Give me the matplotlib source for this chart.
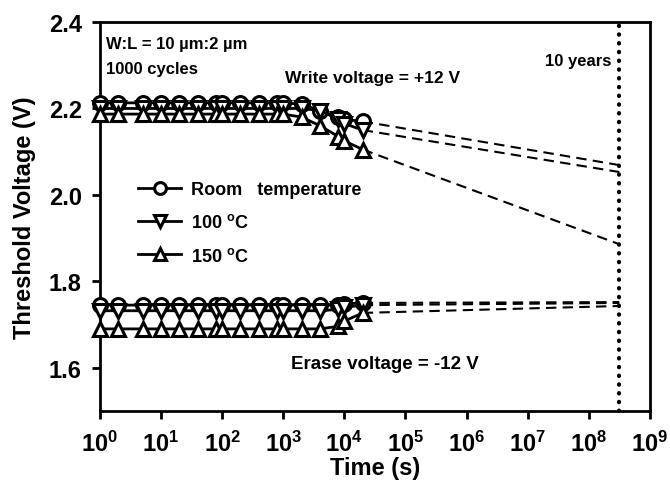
import matplotlib
matplotlib.use("Agg")
import matplotlib.pyplot as plt

plt.rcParams['font.family'] = ['Liberation Sans', 'DejaVu Sans']
plt.rcParams['font.weight'] = 'bold'
plt.rcParams['mathtext.fontset'] = 'custom'
plt.rcParams['mathtext.rm'] = 'Liberation Sans:bold'
plt.rcParams['mathtext.bf'] = 'Liberation Sans:bold'
plt.rcParams['mathtext.it'] = 'Liberation Sans:bold'
plt.rcParams['mathtext.default'] = 'bf'

# ---- data ----
t = [1, 2, 5, 10, 20, 40, 80, 100, 200, 400, 800, 1000, 2000, 4000, 8000, 10000, 20000]

write_room = [2.213, 2.213, 2.213, 2.213, 2.213, 2.213, 2.213, 2.213, 2.213, 2.213, 2.213, 2.213, 2.21, 2.195, 2.18, 2.175, 2.17]
write_100 = [2.20, 2.20, 2.20, 2.20, 2.20, 2.20, 2.20, 2.20, 2.20, 2.20, 2.20, 2.20, 2.20, 2.195, 2.175, 2.165, 2.15]
write_150 = [2.187, 2.187, 2.187, 2.187, 2.187, 2.187, 2.187, 2.187, 2.187, 2.187, 2.187, 2.187, 2.18, 2.16, 2.135, 2.125, 2.105]

erase_room = [1.745, 1.745, 1.745, 1.745, 1.745, 1.745, 1.745, 1.745, 1.745, 1.745, 1.745, 1.745, 1.745, 1.745, 1.745, 1.748, 1.75]
erase_100 = [1.732, 1.732, 1.732, 1.732, 1.732, 1.732, 1.732, 1.732, 1.732, 1.732, 1.732, 1.732, 1.732, 1.732, 1.735, 1.74, 1.745]
erase_150 = [1.69, 1.69, 1.69, 1.69, 1.69, 1.69, 1.69, 1.69, 1.69, 1.69, 1.69, 1.69, 1.69, 1.69, 1.696, 1.708, 1.727]

ten_years = 3.15e8
# extrapolated values at 10 years
ext_write = [2.069, 2.053, 1.886]
ext_erase = [1.752, 1.75, 1.743]

labels = ['Room   temperature', '100 $^{\\mathrm{o}}$C', '150 $^{\\mathrm{o}}$C']
markers = ['o', 'v', '^']
xtick_exp = list(range(10))
yticks = [1.6, 1.8, 2.0, 2.2, 2.4]

fig = plt.figure(figsize=(6.7, 4.85), dpi=100)
ax = fig.add_axes([0.149, 0.1505, 0.821, 0.802])

write = [write_room, write_100, write_150]
erase = [erase_room, erase_100, erase_150]

handles = []
for i in range(3):
    h, = ax.plot(t, write[i], marker=markers[i], color='black', lw=2, ms=10,
                 mfc='white', mec='black', mew=2.2, label=labels[i], clip_on=False, zorder=3)
    ax.plot(t, erase[i], marker=markers[i], color='black', lw=2, ms=10,
            mfc='white', mec='black', mew=2.2, clip_on=False, zorder=3)
    handles.append(h)
    ax.plot([t[-1], ten_years], [write[i][-1], ext_write[i]], ls=(0, (5, 3)), color='black', lw=1.5)
    ax.plot([t[-1], ten_years], [erase[i][-1], ext_erase[i]], ls=(0, (5, 3)), color='black', lw=1.5)

ax.plot([ten_years, ten_years], [1.5, 2.41], color='black', ls=(0, (0.1, 2.0)), lw=3,
        dash_capstyle='round', zorder=2, clip_on=False)

ax.set_xscale('log')
ax.set_xlim(1, 1e9)
ax.set_ylim(1.5, 2.4)
ax.set_yticks(yticks)
ax.set_yticklabels(['%.1f' % v for v in yticks])
ax.set_xticks([10.0**k for k in xtick_exp])
ax.set_xticklabels(['$\\mathbf{10^{%d}}$' % k for k in xtick_exp])

for s in ax.spines.values():
    s.set_linewidth(2)
ax.tick_params(axis='both', which='major', direction='out', length=6, width=2, labelsize=17)
ax.tick_params(axis='y', which='major', pad=7)
ax.tick_params(axis='x', which='major', pad=8)
ax.tick_params(axis='x', which='minor', direction='out', length=4, width=1.5)
ax.tick_params(axis='y', which='minor', left=False)

ax.set_xlabel('Time (s)', fontsize=17, fontweight='bold', labelpad=0)
ax.set_ylabel('Threshold Voltage (V)', fontsize=17, fontweight='bold', labelpad=9)

ax.text(0.012, 0.963, 'W:L = 10 \u00b5m:2 \u00b5m', transform=ax.transAxes,
        fontsize=12, fontweight='bold', va='top', ha='left')
ax.text(0.012, 0.9, '1000 cycles', transform=ax.transAxes,
        fontsize=12, fontweight='bold', va='top', ha='left')
ax.text(0.495, 0.858, 'Write voltage = +12 V', transform=ax.transAxes,
        fontsize=12.5, fontweight='bold', va='center', ha='center')
ax.text(0.93, 0.9, '10 years', transform=ax.transAxes,
        fontsize=12, fontweight='bold', va='center', ha='right')
ax.text(0.518, 0.121, 'Erase voltage = -12 V', transform=ax.transAxes,
        fontsize=13.5, fontweight='bold', va='center', ha='center')

leg = ax.legend(handles=handles, loc='upper left', bbox_to_anchor=(0.04, 0.633), frameon=False,
                fontsize=13, handlelength=2.4, labelspacing=0.85, handletextpad=0.55,
                markerscale=0.85)
for txt in leg.get_texts():
    txt.set_fontweight('bold')

fig.savefig('out.png', dpi=100)
